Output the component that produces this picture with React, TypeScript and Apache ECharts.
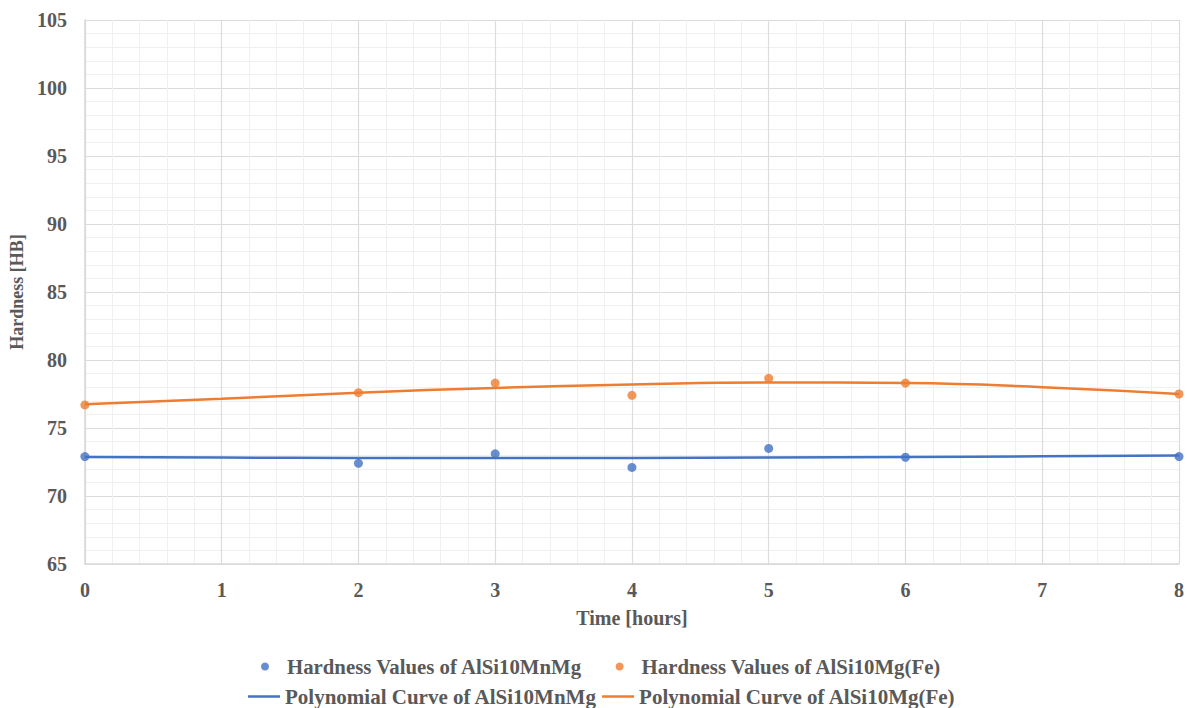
import React, { useEffect, useRef } from "react";
import * as echarts from "echarts";

const timeHours = [0, 2, 3, 4, 5, 6, 8];
const hardnessMnMg = [72.9, 72.4, 73.1, 72.1, 73.5, 72.85, 72.9];
const hardnessMgFe = [76.7, 77.6, 78.3, 77.4, 78.65, 78.3, 77.5];

const curveX = [0, 1, 2, 3, 4, 5, 6, 7, 8];
const curveMnMg = [72.87, 72.83, 72.8, 72.79, 72.8, 72.83, 72.87, 72.92, 72.97];
const curveMgFe = [76.75, 77.15, 77.6, 77.95, 78.2, 78.35, 78.3, 78.0, 77.5];

const nameScatterA = "Hardness Values of AlSi10MnMg";
const nameScatterB = "Hardness Values of AlSi10Mg(Fe)";
const nameCurveA = "Polynomial Curve of AlSi10MnMg";
const nameCurveB = "Polynomial Curve of AlSi10Mg(Fe)";

const BLUE = "#4472C4";
const ORANGE = "#ED7D31";
const TEXT = "#595959";
const FONT = "'Liberation Serif', 'Times New Roman', serif";

export default function App() {
  const ref = useRef<HTMLDivElement>(null);

  useEffect(() => {
    if (!ref.current) return;
    const chart = echarts.init(ref.current, null, { renderer: "svg" });
    const zip = (xs: number[], ys: number[]) => xs.map((x, i) => [x, ys[i]]);
    chart.setOption({
      animation: false,
      backgroundColor: "#ffffff",
      grid: { left: 84, right: 7, top: 20, bottom: 144 },
      legend: [
        {
          data: [nameScatterA, nameScatterB],
          top: 656,
          left: 261,
          padding: 0,
          icon: "circle",
          itemWidth: 8,
          itemHeight: 8,
          itemGap: 33,
          textStyle: {
            color: TEXT,
            fontFamily: FONT,
            fontWeight: "bold",
            fontSize: 20.8,
            padding: [0, 0, 0, 13],
          },
        },
        {
          data: [nameCurveA, nameCurveB],
          top: 686,
          left: 248,
          padding: 0,
          icon: "rect",
          itemWidth: 32,
          itemHeight: 2.5,
          itemGap: 5,
          textStyle: { color: TEXT, fontFamily: FONT, fontWeight: "bold", fontSize: 21 },
        },
      ],
      xAxis: {
        type: "value",
        min: 0,
        max: 8,
        interval: 1,
        name: "Time [hours]",
        nameLocation: "middle",
        nameGap: 44,
        nameTextStyle: { color: TEXT, fontFamily: FONT, fontWeight: "bold", fontSize: 20 },
        axisLine: { show: true, lineStyle: { color: "#d9d9d9", width: 1.5 } },
        axisTick: { show: false },
        axisLabel: { color: TEXT, fontFamily: FONT, fontWeight: "bold", fontSize: 20, margin: 16 },
        splitLine: { show: true, lineStyle: { color: "#dcdcdc", width: 1.2 } },
        minorTick: { show: false, splitNumber: 5 },
        minorSplitLine: { show: true, lineStyle: { color: "#f0f0f0", width: 1 } },
      },
      yAxis: {
        type: "value",
        min: 65,
        max: 105,
        interval: 5,
        name: "Hardness [HB]",
        nameLocation: "middle",
        nameGap: 56,
        nameTextStyle: { color: TEXT, fontFamily: FONT, fontWeight: "bold", fontSize: 18 },
        axisLine: { show: true, lineStyle: { color: "#d9d9d9", width: 1.5 } },
        axisTick: { show: false },
        axisLabel: { color: TEXT, fontFamily: FONT, fontWeight: "bold", fontSize: 20, margin: 18 },
        splitLine: { show: true, lineStyle: { color: "#dcdcdc", width: 1.2 } },
        minorTick: { show: false, splitNumber: 5 },
        minorSplitLine: { show: true, lineStyle: { color: "#f0f0f0", width: 1 } },
      },
      series: [
        {
          name: nameCurveA,
          type: "line",
          data: zip(curveX, curveMnMg),
          smooth: true,
          symbol: "none",
          lineStyle: { color: BLUE, width: 2.5 },
          itemStyle: { color: BLUE },
          z: 2,
        },
        {
          name: nameCurveB,
          type: "line",
          data: zip(curveX, curveMgFe),
          smooth: true,
          symbol: "none",
          lineStyle: { color: ORANGE, width: 2.5 },
          itemStyle: { color: ORANGE },
          z: 2,
        },
        {
          name: nameScatterA,
          type: "scatter",
          data: zip(timeHours, hardnessMnMg),
          symbol: "circle",
          symbolSize: 9,
          itemStyle: { color: BLUE },
          z: 3,
        },
        {
          name: nameScatterB,
          type: "scatter",
          data: zip(timeHours, hardnessMgFe),
          symbol: "circle",
          symbolSize: 9,
          itemStyle: { color: ORANGE },
          z: 3,
        },
      ],
    });
    return () => chart.dispose();
  }, []);

  return <div ref={ref} style={{ width: 1187, height: 708, position: "absolute", left: 0, top: 0 }} />;
}
